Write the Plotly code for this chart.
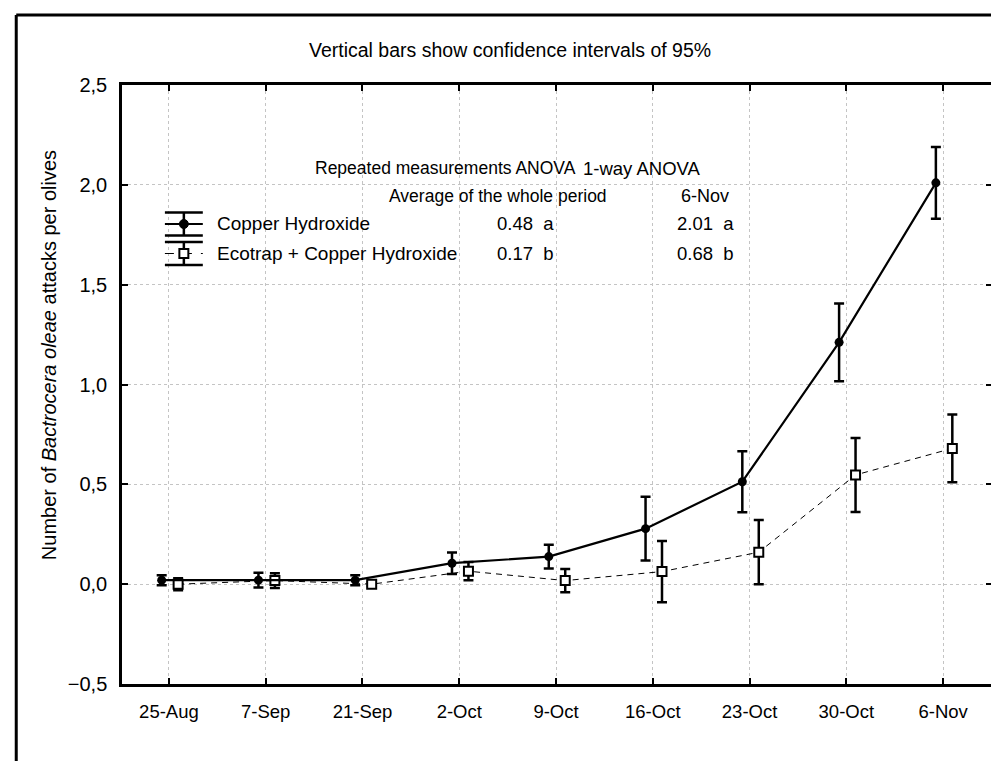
import plotly.graph_objects as go

dates = ["25-Aug", "7-Sep", "21-Sep", "2-Oct", "9-Oct", "16-Oct", "23-Oct", "30-Oct", "6-Nov"]
copper_mean = [0.02, 0.02, 0.02, 0.105, 0.138, 0.278, 0.513, 1.211, 2.01]
copper_ci = [0.025, 0.037, 0.025, 0.054, 0.06, 0.16, 0.153, 0.195, 0.18]
ecotrap_mean = [0.0, 0.018, 0.0, 0.065, 0.018, 0.063, 0.16, 0.547, 0.68]
ecotrap_ci = [0.03, 0.037, 0.01, 0.046, 0.058, 0.153, 0.161, 0.185, 0.17]
series_names = ["Copper Hydroxide", "Ecotrap + Copper Hydroxide"]
avg_whole = ["0.48  a", "0.17  b"]
nov6 = ["2.01  a", "0.68  b"]

FONT = "Arial, Liberation Sans, sans-serif"
L, R, T, B = 114, 986, 77, 676
W, H = 999, 761

def px(x):
    return (x - L) / (R - L)

def py(y):
    return (B - y) / (B - T)

idx = list(range(len(dates)))
x_c = [i - 0.075 for i in idx]
x_e = [i + 0.095 for i in idx]

fig = go.Figure()
fig.add_trace(go.Scatter(
    x=x_e, y=ecotrap_mean, mode="lines+markers", name=series_names[1],
    line=dict(color="black", width=1, dash="6px,5px"),
    marker=dict(symbol="square", size=9, color="white", line=dict(color="black", width=2)),
    error_y=dict(type="data", array=ecotrap_ci, visible=True, color="black", thickness=2.5, width=5),
    showlegend=False))
fig.add_trace(go.Scatter(
    x=x_c, y=copper_mean, mode="lines+markers", name=series_names[0],
    line=dict(color="black", width=2.2),
    marker=dict(symbol="circle", size=9, color="black"),
    error_y=dict(type="data", array=copper_ci, visible=True, color="black", thickness=2.5, width=5),
    showlegend=False))

shapes = []
# outer frame (left and top edges)
shapes.append(dict(type="line", xref="paper", yref="paper", x0=px(8), x1=px(8), y0=py(7), y1=py(761),
                   line=dict(color="black", width=3)))
shapes.append(dict(type="line", xref="paper", yref="paper", x0=px(8), x1=px(999), y0=py(7), y1=py(7),
                   line=dict(color="black", width=3)))

# legend glyphs
def glyph(cy, dash, solid_w, marker):
    g = []
    g.append(dict(type="line", xref="paper", yref="paper", x0=px(157), x1=px(195), y0=py(cy), y1=py(cy),
                  line=dict(color="black", width=solid_w, dash=dash)))
    for cap in (cy - 11.5, cy + 11.5):
        g.append(dict(type="line", xref="paper", yref="paper", x0=px(157), x1=px(195), y0=py(cap), y1=py(cap),
                      line=dict(color="black", width=2.5)))
    g.append(dict(type="line", xref="paper", yref="paper", x0=px(176), x1=px(176), y0=py(cy - 11.5), y1=py(cy + 11.5),
                  line=dict(color="black", width=2.5)))
    if marker == "circle":
        g.append(dict(type="circle", xref="paper", yref="paper", x0=px(171.5), x1=px(180.5), y0=py(cy - 4.5), y1=py(cy + 4.5),
                      fillcolor="black", line=dict(color="black", width=1)))
    else:
        g.append(dict(type="rect", xref="paper", yref="paper", x0=px(171.5), x1=px(180.5), y0=py(cy - 4.5), y1=py(cy + 4.5),
                      fillcolor="white", line=dict(color="black", width=2)))
    return g

shapes += glyph(216, "solid", 2.2, "circle")
shapes += glyph(245.5, "dash", 1, "square")

ann = []
def text(t, x, y, size=19, anchor="left"):
    ann.append(dict(text=t, xref="paper", yref="paper", x=px(x), y=py(y), xanchor=anchor, yanchor="middle",
                    showarrow=False, font=dict(family=FONT, size=size, color="black")))

text("Vertical bars show confidence intervals of 95%", 503, 42, 19.5, "center")
text("Repeated measurements ANOVA", 571, 160, 17.5, "right")
text("1-way ANOVA", 574, 160, 18.5)
text("Average of the whole period", 380, 188, 17.5)
text("6-Nov", 672, 188, 18)
text(series_names[0], 207, 216, 19)
text(avg_whole[0], 488, 216, 18.5)
text(nov6[0], 668, 216, 18.5)
text(series_names[1], 207, 245, 19)
text(avg_whole[1], 488, 245, 18.5)
text(nov6[1], 668, 245, 18.5)
ann.append(dict(text="Number of <i>Bactrocera oleae</i> attacks per olives", xref="paper", yref="paper",
                x=px(41), y=py(347), xanchor="center", yanchor="middle", textangle=-90, showarrow=False,
                font=dict(family=FONT, size=20, color="black")))

fig.update_layout(
    width=W, height=H,
    margin=dict(l=L, r=W - R, t=T, b=H - B, pad=0),
    paper_bgcolor="white", plot_bgcolor="white",
    separators=",.",
    font=dict(family=FONT, size=20, color="black"),
    shapes=shapes, annotations=ann,
    showlegend=False,
)
fig.update_xaxes(
    range=[-0.485, 8.505], tickmode="array", tickvals=idx, ticktext=dates,
    showline=True, linecolor="black", linewidth=2.5, mirror="allticks",
    ticks="inside", ticklen=6, tickwidth=2, tickcolor="black",
    showgrid=True, gridcolor="#c4c4c4", griddash="dot", gridwidth=1,
    zeroline=False, tickfont=dict(family=FONT, size=18.5), ticklabelstandoff=9,
)
fig.update_yaxes(
    range=[-0.5, 2.5], tick0=-0.5, dtick=0.5, tickformat=".1f",
    showline=True, linecolor="black", linewidth=2.5, mirror="allticks",
    ticks="inside", ticklen=6, tickwidth=2, tickcolor="black",
    showgrid=True, gridcolor="#c4c4c4", griddash="dot", gridwidth=1,
    zeroline=False, tickfont=dict(family=FONT, size=20), ticklabelstandoff=8,
)

fig.write_html("out.html")
